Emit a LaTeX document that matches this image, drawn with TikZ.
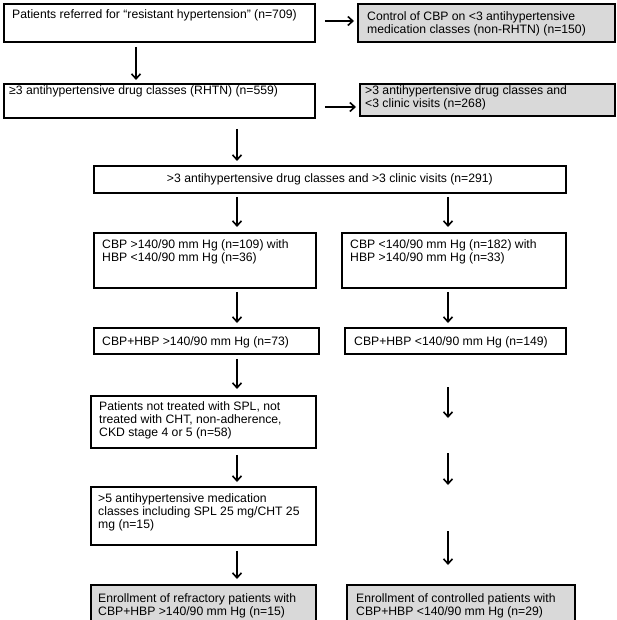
\documentclass[tikz,border=0pt]{standalone}
\usepackage{fontspec}
\setmainfont{Liberation Sans}
\usetikzlibrary{arrows.meta}
\tikzset{
  x=1pt, y=-1pt,
  bx/.style={draw, line width=1.8pt, inner sep=0pt, anchor=north west},
  gbx/.style={bx, fill=black!15},
  txt/.style={anchor=north west, align=left, inner sep=0pt, font=\fontsize{12.2}{13.3}\selectfont},
  arr/.style={-{Straight Barb[length=5pt,width=9pt]}, line width=1.6pt}
}
\newcommand{\boxat}[6]{\node[#6, minimum width=#4pt-#2pt, minimum height=#5pt-#3pt] (#1) at (#2,#3) {};}
\begin{document}
\begin{tikzpicture}
\useasboundingbox (0,0) rectangle (616,620);
\clip (0,0) rectangle (616,620);
% boxes
\boxat{b1}{3}{3}{314}{41}{bx}
\boxat{g1}{357}{3}{614}{41}{gbx}
\boxat{b2}{3}{83}{314}{117}{bx}
\boxat{g2}{359}{83}{614}{115}{gbx}
\boxat{b3}{93}{165}{565}{192}{bx}
\boxat{b4l}{93}{232}{315}{287}{bx}
\boxat{b4r}{341}{232}{565}{287}{bx}
\boxat{b5l}{93}{327}{318}{353}{bx}
\boxat{b5r}{344}{327}{565}{353}{bx}
\boxat{b6l}{90}{395}{315}{447}{bx}
\boxat{b7l}{90}{486}{315}{544}{bx}
\boxat{b8l}{90}{584}{315}{632}{gbx}
\boxat{b8r}{346}{584}{574}{632}{gbx}
% texts (node top = baseline - 9)
\node[txt] (t1) at (12,9) {Patients referred for “resistant hypertension” (n=709)};
\node[txt] (tg1) at (367,11) {Control of CBP on <3 antihypertensive\\medication classes (non-RHTN) (n=150)};
\node[txt] (t2) at (9,85) {≥3 antihypertensive drug classes (RHTN) (n=559)};
\node[txt] (tg2) at (365,85) {>3 antihypertensive drug classes and\\<3 clinic visits (n=268)};
\node[font=\fontsize{12.2}{13.3}\selectfont, inner sep=0pt] (t3) at (b3.center) {>3 antihypertensive drug classes and >3 clinic visits (n=291)};
\node[txt] (t4l) at (102,239) {CBP >140/90 mm Hg (n=109) with\\HBP <140/90 mm Hg (n=36)};
\node[txt] (t4r) at (350,239) {CBP <140/90 mm Hg (n=182) with\\HBP >140/90 mm Hg (n=33)};
\node[txt] (t5l) at (102,336) {CBP+HBP >140/90 mm Hg (n=73)};
\node[txt] (t5r) at (354,336) {CBP+HBP <140/90 mm Hg (n=149)};
\node[txt] (t6l) at (99,401) {Patients not treated with SPL, not\\treated with CHT, non-adherence,\\CKD stage 4 or 5 (n=58)};
\node[txt] (t7l) at (98,493) {>5 antihypertensive medication\\classes including SPL 25 mg/CHT 25\\mg (n=15)};
\node[txt] (t8l) at (98,593) {Enrollment of refractory patients with\\CBP+HBP >140/90 mm Hg (n=15)};
\node[txt] (t8r) at (356,593) {Enrollment of controlled patients with\\CBP+HBP <140/90 mm Hg (n=29)};
% arrow columns and rows
\coordinate (ca) at (136,0);
\coordinate (cl) at (237,0);
\coordinate (cr) at (448,0);
\coordinate (h1) at (0,21);
\coordinate (h2) at (0,107);
% connectors
\draw[arr, shorten <=9pt, shorten >=3pt] (b1.east |- h1) -- (g1.west |- h1);
\draw[arr, shorten <=9pt, shorten >=3pt] (b2.east |- h2) -- (g2.west |- h2);
\draw[arr, shorten <=4pt, shorten >=3pt] (b1.south -| ca) -- (b2.north -| ca);
\draw[arr, shorten <=10pt, shorten >=4pt] (b2.south -| cl) -- (b3.north -| cl);
\draw[arr, shorten <=3pt, shorten >=5pt] (b3.south -| cl) -- (b4l.north -| cl);
\draw[arr, shorten <=3pt, shorten >=5pt] (b3.south -| cr) -- (b4r.north -| cr);
\draw[arr, shorten <=3pt, shorten >=4pt] (b4l.south -| cl) -- (b5l.north -| cl);
\draw[arr, shorten <=3pt, shorten >=4pt] (b4r.south -| cr) -- (b5r.north -| cr);
\draw[arr, shorten <=4pt, shorten >=6pt] (b5l.south -| cl) -- (b6l.north -| cl);
\draw[arr, shorten <=6pt, shorten >=4pt] (b6l.south -| cl) -- (b7l.north -| cl);
\draw[arr, shorten <=5pt, shorten >=5pt] (b7l.south -| cl) -- (b8l.north -| cl);
\coordinate (r1a) at (448,387);
\coordinate (r1b) at (448,418);
\coordinate (r2a) at (448,453);
\coordinate (r2b) at (448,485);
\coordinate (r3a) at (448,531);
\coordinate (r3b) at (448,565);
\draw[arr] (r1a) -- (r1b);
\draw[arr] (r2a) -- (r2b);
\draw[arr] (r3a) -- (r3b);
\end{tikzpicture}
\end{document}
